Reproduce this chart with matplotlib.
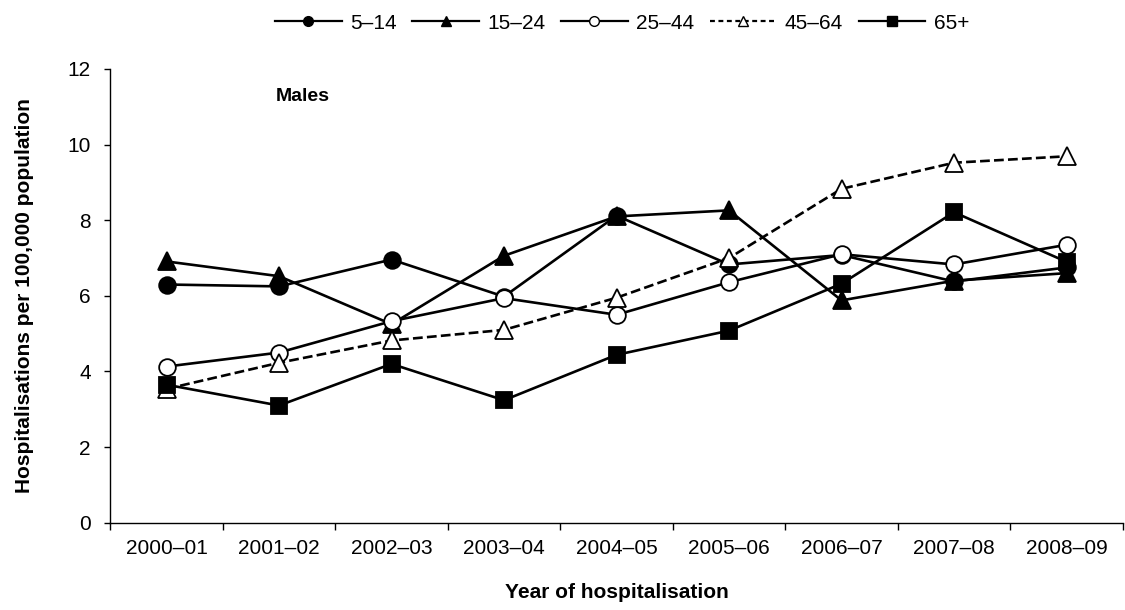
import numpy as np
import matplotlib.pyplot as plt
from matplotlib.lines import Line2D

plt.rcParams['font.family'] = ['Liberation Sans', 'DejaVu Sans']

years = ['2000–01', '2001–02', '2002–03', '2003–04', '2004–05',
         '2005–06', '2006–07', '2007–08', '2008–09']

# hospitalisations per 100,000, males, by age group
age_5_14 = [6.30, 6.25, 6.96, 5.98, 8.12, 6.83, 7.08, 6.38, 6.75]
age_15_24 = [6.91, 6.52, 5.25, 7.06, 8.10, 8.26, 5.88, 6.40, 6.60]
age_25_44 = [4.13, 4.50, 5.33, 5.94, 5.50, 6.36, 7.10, 6.83, 7.35]
age_45_64 = [3.54, 4.23, 4.82, 5.10, 5.95, 7.00, 8.83, 9.52, 9.69]
age_65p = [3.65, 3.10, 4.20, 3.24, 4.44, 5.08, 6.32, 8.21, 6.90]

labels = ['5–14', '15–24', '25–44', '45–64', '65+']
series = [age_5_14, age_15_24, age_25_44, age_45_64, age_65p]
styles = [
    dict(marker='o', mfc='black', ls='-'),
    dict(marker='^', mfc='black', ls='-'),
    dict(marker='o', mfc='white', ls='-'),
    dict(marker='^', mfc='white', ls='--'),
    dict(marker='s', mfc='black', ls='-'),
]

fig = plt.figure(figsize=(11.25, 6.1), dpi=100)
ax = fig.add_axes([0.098, 0.143, 0.9, 0.744])

x = np.arange(len(years))
handles = []
for vals, lab, st in zip(series, labels, styles):
    ms = 12 if st['marker'] != '^' else 12.5
    ax.plot(x, vals, color='black', lw=1.9, ls=st['ls'], marker=st['marker'],
            ms=ms, mfc=st['mfc'], mec='black', mew=1.3)
    # smaller markers and finer dashes for the legend keys
    key_ls = (0, (2.2, 1.6)) if st['ls'] == '--' else '-'
    handles.append(Line2D([], [], color='black', lw=1.6, ls=key_ls,
                          marker=st['marker'], ms=7, mfc=st['mfc'],
                          mec='black', mew=1))

ax.set_xlim(-0.5, len(years) - 0.5)
ax.set_ylim(0, 12)
ax.set_yticks(np.arange(0, 13, 2))
ax.set_xticks(x)
ax.set_xticklabels(years)
ax.set_xticks(np.arange(-0.5, len(years), 1), minor=True)
ax.tick_params(axis='x', which='major', length=0, pad=12, labelsize=15)
ax.tick_params(axis='x', which='minor', length=5, width=1, direction='out')
ax.tick_params(axis='y', length=4, width=1, direction='out', pad=10, labelsize=15)

for s in ['top', 'right']:
    ax.spines[s].set_visible(False)
for s in ['left', 'bottom']:
    ax.spines[s].set_linewidth(1)

ax.set_xlabel('Year of hospitalisation', fontsize=15, fontweight='bold', labelpad=18)
ax.set_ylabel('Hospitalisations per 100,000 population', fontsize=15,
              fontweight='bold', labelpad=24)

ax.text(0.19, 0.94, 'Males', transform=ax.transAxes, fontsize=14,
        fontweight='bold', ha='center', va='center')

fig.legend(handles, labels, loc='center', bbox_to_anchor=(0.553, 0.962),
           ncol=5, frameon=False, fontsize=15, handlelength=3.2,
           columnspacing=0.75, handletextpad=0.4)

plt.savefig('out.png', dpi=100)
